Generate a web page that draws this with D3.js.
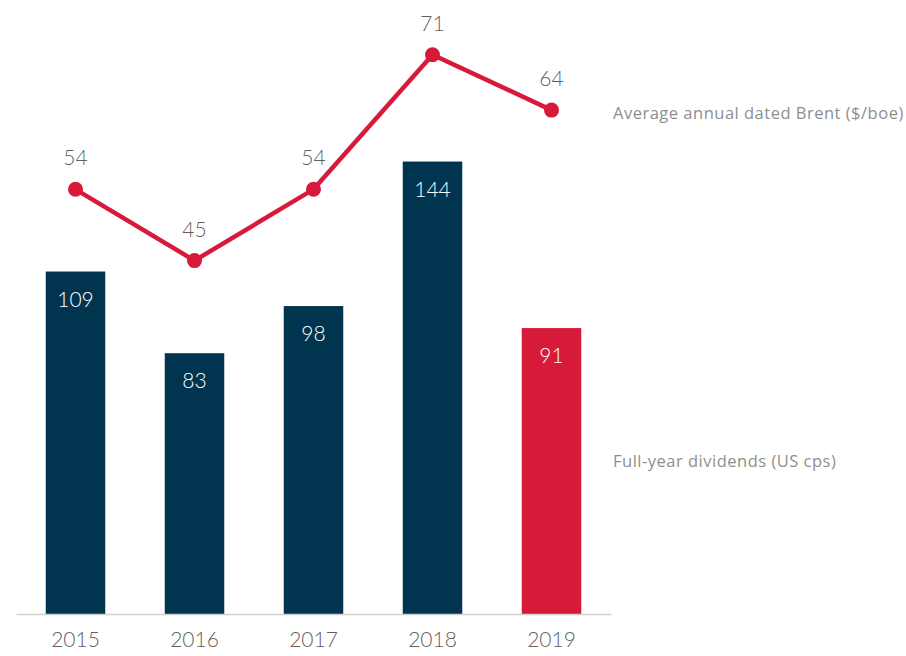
<!DOCTYPE html>
<html>
<head>
<meta charset="utf-8">
<script src="https://cdn.jsdelivr.net/npm/d3@7"></script>
<style>
  body { margin: 0; background: #fff; }
  text { font-family: Lato, "Open Sans", sans-serif; }
</style>
</head>
<body>
<div id="chart"></div>
<script>
var years = ["2015", "2016", "2017", "2018", "2019"];
var dividends = [109, 83, 98, 144, 91];
var brent = [54, 45, 54, 71, 64];

var width = 906, height = 656;
var baseY = 614;

var svg = d3.select("#chart")
    .append("svg")
    .attr("width", width)
    .attr("height", height);

var navy = "#01344e", red = "#d81a3a", grey = "#5f5f5f", lightGrey = "#8e8e8e";

// scales
var x = d3.scaleBand()
    .domain(years)
    .range([16, 611])
    .paddingInner(0.5)
    .paddingOuter(0.25);

var yBar = d3.scaleLinear().domain([0, 190]).range([baseY, 17]);
var yLine = d3.scaleLinear().domain([0, 75]).range([617, 23]);

// bars
svg.selectAll(".bar")
    .data(dividends)
    .enter().append("rect")
    .attr("class", "bar")
    .attr("x", function (d, i) { return x(years[i]); })
    .attr("width", x.bandwidth())
    .attr("y", function (d) { return yBar(d); })
    .attr("height", function (d) { return baseY - yBar(d); })
    .attr("fill", function (d, i) { return i == years.length - 1 ? red : navy; });

// bar labels
svg.selectAll(".barlabel")
    .data(dividends)
    .enter().append("text")
    .attr("x", function (d, i) { return x(years[i]) + x.bandwidth() / 2; })
    .attr("y", function (d) { return yBar(d) + 35; })
    .attr("text-anchor", "middle")
    .attr("fill", "#fff")
    .style("font-size", "21px")
    .style("font-weight", 300)
    .text(function (d) { return d; });

// baseline / x axis
var xAxis = svg.append("g")
    .attr("transform", "translate(0," + baseY + ")")
    .call(d3.axisBottom(x).tickSize(0).tickPadding(18));
xAxis.select(".domain").attr("stroke", "#d0d0d0").attr("stroke-width", 1.5);
xAxis.selectAll("text")
    .attr("fill", grey)
    .style("font-size", "21px")
    .style("font-weight", 300)
    .style("font-family", "Lato, 'Open Sans', sans-serif");

// brent line
var line = d3.line()
    .x(function (d, i) { return x(years[i]) + x.bandwidth() / 2; })
    .y(function (d) { return yLine(d); });

svg.append("path")
    .datum(brent)
    .attr("fill", "none")
    .attr("stroke", red)
    .attr("stroke-width", 4.5)
    .attr("d", line);

svg.selectAll(".dot")
    .data(brent)
    .enter().append("circle")
    .attr("cx", function (d, i) { return x(years[i]) + x.bandwidth() / 2; })
    .attr("cy", function (d) { return yLine(d); })
    .attr("r", 7.5)
    .attr("fill", red);

svg.selectAll(".linelabel")
    .data(brent)
    .enter().append("text")
    .attr("x", function (d, i) { return x(years[i]) + x.bandwidth() / 2; })
    .attr("y", function (d) { return yLine(d) - 24; })
    .attr("text-anchor", "middle")
    .attr("fill", grey)
    .style("font-size", "21px")
    .style("font-weight", 300)
    .text(function (d) { return d; });

// series labels
svg.append("text")
    .attr("x", 613)
    .attr("y", 119)
    .attr("fill", lightGrey)
    .style("font-family", "'Open Sans', sans-serif")
    .style("font-size", "16.5px")
    .style("letter-spacing", "0.5px")
    .text("Average annual dated Brent ($/boe)");

svg.append("text")
    .attr("x", 613)
    .attr("y", 467)
    .attr("fill", lightGrey)
    .style("font-family", "'Open Sans', sans-serif")
    .style("font-size", "16.5px")
    .style("letter-spacing", "0.5px")
    .text("Full-year dividends (US cps)");
</script>
</body>
</html>
